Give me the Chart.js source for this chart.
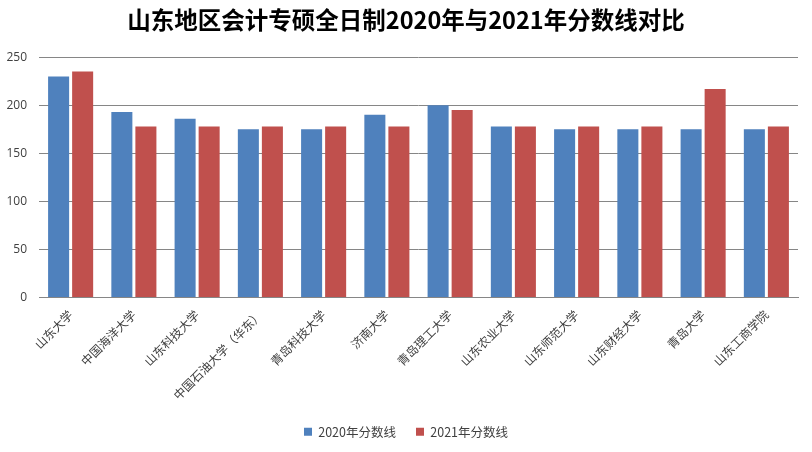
<!DOCTYPE html>
<html>
<head>
<meta charset="utf-8">
<script src="https://cdn.jsdelivr.net/npm/chart.js@4"></script>
<style>
  html, body { margin: 0; padding: 0; background: #fff; }
  #wrap { width: 812px; height: 452px; position: relative; }
</style>
</head>
<body>
<div id="wrap"><canvas id="score-graph"></canvas></div>
<script>
const schools = ['山东大学', '中国海洋大学', '山东科技大学', '中国石油大学（华东）', '青岛科技大学', '济南大学',
                 '青岛理工大学', '山东农业大学', '山东师范大学', '山东财经大学', '青岛大学', '山东工商学院'];
const scores2020 = [230, 193, 186, 175, 175, 190, 200, 178, 175, 175, 175, 175];
const scores2021 = [235, 178, 178, 178, 178, 178, 195, 178, 178, 178, 217, 178];
const yTicks = [0, 50, 100, 150, 200, 250];

const sansFont = "'Open Sans', 'Noto Sans CJK SC', sans-serif";
const cjkFont = "'Noto Sans CJK SC', sans-serif";

const ctx = document.getElementById('score-graph').getContext('2d');

new Chart(ctx, {
    type: 'bar',
    data: {
        labels: schools,
        datasets: [
            { label: '2020年分数线', data: scores2020, backgroundColor: '#4F81BD', yAxisID: 'y' },
            { label: '2021年分数线', data: scores2021, backgroundColor: '#C0504D', yAxisID: 'y' },
        ]
    },
    options: {
        responsive: true,
        maintainAspectRatio: false,
        animation: false,
        datasets: {
            bar: { categoryPercentage: 0.76, barPercentage: 0.875 }
        },
        layout: { padding: { left: 0, right: 0, top: 0, bottom: 4 } },
        scales: {
            x: {
                grid: { display: false },
                border: { color: '#868686' },
                ticks: {
                    color: '#404040',
                    minRotation: 45,
                    maxRotation: 45,
                    padding: 2,
                    font: { family: cjkFont, size: 12 }
                },
                afterFit: scale => { scale.height = 108; }
            },
            y: {
                min: 0,
                max: 250,
                afterBuildTicks: scale => { scale.ticks = yTicks.map(v => ({ value: v })); },
                grid: { color: '#868686', drawTicks: false },
                border: { display: false },
                ticks: {
                    color: '#404040',
                    padding: 12,
                    font: { family: sansFont, size: 12 }
                },
                afterFit: scale => { scale.width = 39; }
            },
            // empty right margin so the title centres like the original
            y2: {
                position: 'right',
                min: 0,
                max: 250,
                grid: { display: false },
                border: { display: false },
                ticks: { display: false },
                afterFit: scale => { scale.width = 14; }
            }
        },
        plugins: {
            title: {
                display: true,
                text: '山东地区会计专硕全日制2020年与2021年分数线对比',
                color: '#000',
                font: { family: cjkFont, size: 23.5, weight: 'bold' },
                padding: { top: 6, bottom: 23 }
            },
            legend: {
                position: 'bottom',
                labels: {
                    boxWidth: 8,
                    boxHeight: 8,
                    padding: 20,
                    color: '#404040',
                    font: { family: cjkFont, size: 12.5 }
                }
            },
            tooltip: { enabled: false }
        }
    }
});
</script>
</body>
</html>
